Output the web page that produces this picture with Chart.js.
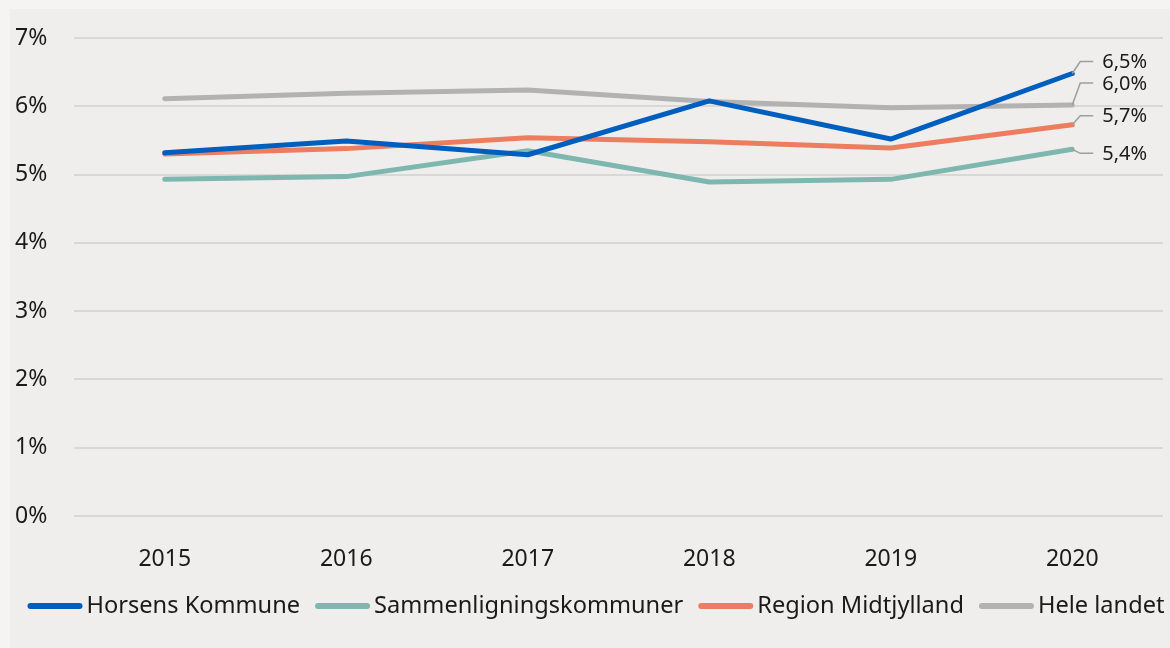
<!DOCTYPE html>
<html lang="da">
<head>
<meta charset="utf-8">
<title>Ledighed - Horsens Kommune</title>
<script src="https://cdn.jsdelivr.net/npm/chart.js@4.4.1/dist/chart.umd.min.js"></script>
<style>
    html, body { margin: 0; padding: 0; background: #f5f4f2; }
    body { width: 1170px; height: 648px; overflow: hidden; position: relative; }
    .panel { position: absolute; left: 10px; top: 9px; width: 1160px; height: 639px; background: #efeeec; }
</style>
</head>
<body>
<div class="panel"><canvas id="chart" width="1160" height="639"></canvas></div>
<script>
/* === DATA === */
const years = ['2015', '2016', '2017', '2018', '2019', '2020'];
const horsens = [5.32, 5.49, 5.29, 6.08, 5.52, 6.48];
const sammenligning = [4.93, 4.97, 5.35, 4.89, 4.93, 5.37];
const region = [5.30, 5.38, 5.54, 5.48, 5.39, 5.73];
const heleLandet = [6.11, 6.19, 6.24, 6.07, 5.98, 6.02];
const yTicks = [0, 1, 2, 3, 4, 5, 6, 7];

/* === STYLE === */
const FONT = '"Noto Sans", "Open Sans", sans-serif';
const TEXT = '#1a1a1a';
const colors = ['#005ebf', '#7eb7af', '#ec7d5e', '#b2b2b2'];
const labelShift = [-12, 4, -9, -22];   // px, moves end labels off each other

/* === END LABELS WITH LEADER LINES === */
const endLabels = {
    id: 'endLabels',
    afterDatasetsDraw(chart) {
        const ctx = chart.ctx;
        ctx.save();
        ctx.font = '20px ' + FONT;
        ctx.textBaseline = 'middle';
        ctx.textAlign = 'left';
        chart.data.datasets.forEach((ds, i) => {
            const meta = chart.getDatasetMeta(i);
            const pt = meta.data[meta.data.length - 1];
            const ly = pt.y + labelShift[i];
            ctx.strokeStyle = '#9e9e9e';
            ctx.lineWidth = 1.5;
            ctx.beginPath();
            ctx.moveTo(pt.x, pt.y);
            ctx.lineTo(pt.x + 8, ly);
            ctx.lineTo(pt.x + 21, ly);
            ctx.stroke();
            const v = ds.data[ds.data.length - 1];
            ctx.fillStyle = TEXT;
            ctx.fillText(v.toFixed(1).replace('.', ',') + '%', pt.x + 30, ly + 1);
        });
        ctx.restore();
    }
};

/* === LEGEND (line swatch + text) === */
const lineLegend = {
    id: 'lineLegend',
    afterDraw(chart) {
        const ctx = chart.ctx;
        ctx.save();
        ctx.font = '23.6px ' + FONT;
        ctx.textBaseline = 'middle';
        ctx.textAlign = 'left';
        const items = chart.data.datasets.map(ds => ({
            text: ds.label, color: ds.borderColor, w: ctx.measureText(ds.label).width
        }));
        const total = items.reduce((s, it) => s + 55 + 4 + it.w, 0) + 15 * (items.length - 1);
        let x = chart.width / 2 + 6 - total / 2;
        const y = chart.height - 42;
        items.forEach(it => {
            ctx.strokeStyle = it.color;
            ctx.lineWidth = 6;
            ctx.lineCap = 'round';
            ctx.beginPath();
            ctx.moveTo(x + 3, y);
            ctx.lineTo(x + 52, y);
            ctx.stroke();
            ctx.fillStyle = TEXT;
            ctx.fillText(it.text, x + 59, y);
            x += 55 + 4 + it.w + 15;
        });
        ctx.restore();
    }
};

function line(label, data, color) {
    return {
        label: label,
        data: data,
        borderColor: color,
        backgroundColor: color,
        borderWidth: 5,
        borderCapStyle: 'round',
        borderJoinStyle: 'round',
        pointRadius: 0,
        tension: 0,
        fill: false
    };
}

new Chart(document.getElementById('chart'), {
    type: 'line',
    data: {
        labels: years,
        datasets: [
            line('Horsens Kommune', horsens, colors[0]),
            line('Sammenligningskommuner', sammenligning, colors[1]),
            line('Region Midtjylland', region, colors[2]),
            line('Hele landet', heleLandet, colors[3])
        ]
    },
    options: {
        responsive: false,
        devicePixelRatio: 1,
        animation: false,
        layout: { padding: { top: 29, right: 7, left: 5, bottom: 0 } },
        plugins: {
            legend: { display: false },
            tooltip: { enabled: false }
        },
        scales: {
            x: {
                offset: true,
                grid: { display: false },
                border: { display: false },
                ticks: { color: TEXT, font: { family: FONT, size: 23 }, padding: 22 },
                afterFit: s => { s.height = 132; }
            },
            y: {
                min: yTicks[0],
                max: yTicks[yTicks.length - 1],
                afterBuildTicks: s => { s.ticks = yTicks.map(v => ({ value: v })); },
                grid: { color: '#d9d8d6', lineWidth: 2, drawTicks: false },
                border: { display: false },
                ticks: {
                    color: TEXT,
                    font: { family: FONT, size: 23 },
                    crossAlign: 'far',
                    callback: v => v + '%'
                },
                afterFit: s => { s.width = 59; }
            }
        }
    },
    plugins: [endLabels, lineLegend]
});
</script>
</body>
</html>
